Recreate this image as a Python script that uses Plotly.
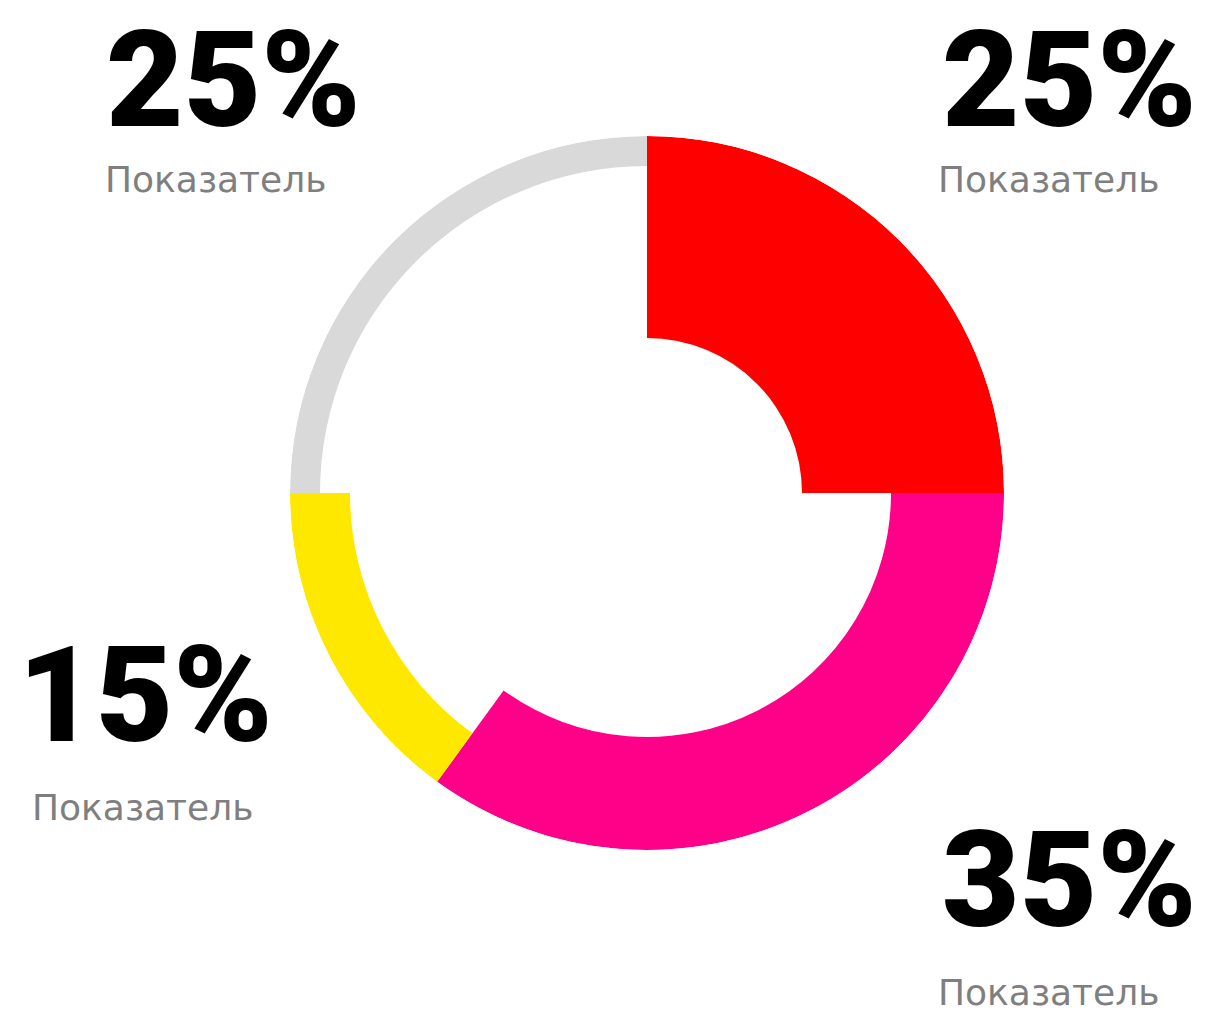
import plotly.graph_objects as go

# Shares of each segment (percent), drawn clockwise from 12 o'clock
labels = ["Показатель A", "Показатель B", "Показатель C", "Показатель D"]
shares = [25, 35, 15, 25]
colors = ["#ff0000", "#ff0088", "#ffe800", "#d9d9d9"]

# Ring geometry: each segment has its own inner radius (outer edge is shared)
outer_radius = 357
inner_radius = [155, 244, 297, 327]

# Angular placement of each segment
widths = [s * 360 / 100 for s in shares]
centers = []
acc = 0
for w in widths:
    centers.append(acc + w / 2)
    acc += w

fig = go.Figure()
fig.add_trace(go.Barpolar(
    theta=centers,
    width=widths,
    base=inner_radius,
    r=[outer_radius - b for b in inner_radius],
    marker=dict(color=colors, line=dict(width=0)),
    hovertext=labels,
    hoverinfo="text",
))

W, H = 1213, 1014
cx, cy = 647, 493

fig.update_layout(
    width=W, height=H,
    margin=dict(l=0, r=0, t=0, b=0),
    paper_bgcolor="white",
    plot_bgcolor="white",
    showlegend=False,
    polar=dict(
        domain=dict(
            x=[(cx - outer_radius) / W, (cx + outer_radius) / W],
            y=[(H - cy - outer_radius) / H, (H - cy + outer_radius) / H],
        ),
        bgcolor="rgba(0,0,0,0)",
        radialaxis=dict(range=[0, outer_radius], visible=False, showgrid=False),
        angularaxis=dict(rotation=90, direction="clockwise", visible=False, showgrid=False),
        bargap=0,
    ),
)

# Value labels: percentage headline + caption, positioned in pixels
value_texts = ["25%", "35%", "15%", "25%"]
label_pos = [  # (headline x, headline top y, caption x, caption top y)
    (940, 0, 936, 157),     # red
    (940, 800, 936, 970),   # magenta
    (16, 615, 30, 785),     # yellow
    (104, 0, 103, 157),     # gray
]

for txt, (xh, yh, xc, yc) in zip(value_texts, label_pos):
    fig.add_annotation(
        x=xh / W, y=1 - yh / H, xref="paper", yref="paper",
        xanchor="left", yanchor="top", showarrow=False,
        text=txt,
        font=dict(family="Roboto", size=134, color="#000000", weight=900),
    )
    fig.add_annotation(
        x=xc / W, y=1 - yc / H, xref="paper", yref="paper",
        xanchor="left", yanchor="top", showarrow=False,
        text="Показатель",
        font=dict(family="DejaVu Sans", size=36, color="#7f7f7f"),
    )

fig.write_html("out.html")
